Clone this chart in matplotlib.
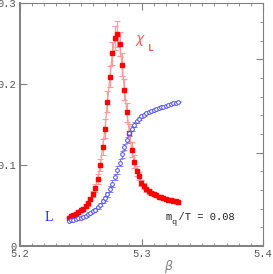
import numpy as np
import matplotlib
matplotlib.use("Agg")
from matplotlib import pyplot as plt
from matplotlib.ticker import MultipleLocator, NullFormatter

# beta values (same grid for both observables)
beta = [5.240, 5.242, 5.244, 5.246, 5.248, 5.250, 5.252, 5.254, 5.256, 5.258,
        5.260, 5.262, 5.264, 5.266, 5.268, 5.270, 5.272, 5.274, 5.276, 5.278,
        5.280, 5.282, 5.284, 5.286, 5.288, 5.290, 5.292, 5.294, 5.296, 5.298,
        5.300, 5.302, 5.304, 5.306, 5.308, 5.310, 5.312, 5.314, 5.316, 5.318,
        5.320, 5.322, 5.324, 5.326, 5.328, 5.330]

# susceptibility chi_L
chi = [0.035, 0.037, 0.038, 0.040, 0.042, 0.044, 0.046, 0.049, 0.053, 0.058,
       0.064, 0.072, 0.083, 0.100, 0.122, 0.145, 0.178, 0.209, 0.238, 0.257,
       0.262, 0.249, 0.224, 0.193, 0.165, 0.140, 0.119, 0.104, 0.093, 0.086,
       0.078, 0.074, 0.070, 0.0675, 0.0655, 0.064, 0.0625, 0.061, 0.060, 0.059,
       0.058, 0.057, 0.0563, 0.0556, 0.055, 0.0545]
chi_err = [0.001, 0.001, 0.0015, 0.0015, 0.002, 0.002, 0.002, 0.0025, 0.003, 0.003,
           0.004, 0.005, 0.006, 0.008, 0.010, 0.012, 0.013, 0.013, 0.014, 0.015,
           0.016, 0.015, 0.014, 0.013, 0.012, 0.011, 0.009, 0.008, 0.006, 0.005,
           0.004, 0.004, 0.003, 0.003, 0.0025, 0.002, 0.002, 0.002, 0.0015, 0.0015,
           0.0015, 0.001, 0.001, 0.001, 0.001, 0.001]

# Polyakov loop L
lval = [0.031, 0.0315, 0.032, 0.033, 0.034, 0.035, 0.036, 0.037, 0.039, 0.041,
        0.043, 0.045, 0.048, 0.051, 0.055, 0.059, 0.064, 0.070, 0.077, 0.085,
        0.094, 0.103, 0.113, 0.122, 0.131, 0.139, 0.145, 0.150, 0.154, 0.157,
        0.160, 0.162, 0.164, 0.1655, 0.167, 0.168, 0.169, 0.170, 0.171, 0.172,
        0.173, 0.174, 0.175, 0.176, 0.177, 0.178]
l_err = [0.0005, 0.0005, 0.0005, 0.0005, 0.0007, 0.0007, 0.0008, 0.001, 0.001, 0.0012,
         0.0015, 0.0015, 0.002, 0.002, 0.0025, 0.003, 0.003, 0.0035, 0.004, 0.004,
         0.0045, 0.0045, 0.0045, 0.004, 0.004, 0.0035, 0.003, 0.0025, 0.002, 0.002,
         0.0015, 0.0015, 0.0012, 0.001, 0.001, 0.001, 0.0008, 0.0008, 0.0007, 0.0007,
         0.0006, 0.0006, 0.0005, 0.0005, 0.0005, 0.0005]

mono = "Liberation Mono"
grey = "#808080"

fig = plt.figure(figsize=(2.73, 2.74), dpi=100)
ax = fig.add_axes([20/273, 28/274, 243/273, 243/274])

ax.errorbar(beta, chi, yerr=chi_err, color="#ff9a9a", lw=0.9, elinewidth=0.9,
            capsize=2, capthick=0.8, zorder=2)
ax.plot(beta, chi, ls="none", marker="s", ms=2.7, color="#ff0000", zorder=3)

ax.errorbar(beta, lval, yerr=l_err, ls="none", color="#7070ff", elinewidth=0.7,
            capsize=1.8, capthick=0.6, zorder=2)
ax.plot(beta, lval, ls="none", marker="o", ms=2.7, mfc="white", mec="#4a4aff",
        mew=0.7, zorder=3)

ax.set_xlim(5.2, 5.4)
ax.set_ylim(0, 0.3)
ax.xaxis.set_major_locator(MultipleLocator(0.1))
ax.xaxis.set_minor_locator(MultipleLocator(0.01))
ax.yaxis.set_major_locator(MultipleLocator(0.1))
ax.tick_params(axis="both", which="both", direction="in", color=grey,
               labelcolor="#555555", labelsize=7.5, pad=2.5)
ax.tick_params(axis="x", which="major", length=5, top=True)
ax.tick_params(axis="x", which="minor", length=2.5, top=True)
ax.tick_params(axis="y", which="major", length=5)
ax.xaxis.set_major_formatter(lambda v, p: f"{v:.1f}")
ax.yaxis.set_major_formatter(lambda v, p: "0" if v == 0 else f"{v:.1f}")
for lab in ax.get_xticklabels() + ax.get_yticklabels():
    lab.set_family(mono)

for side in ["left", "bottom"]:
    ax.spines[side].set_color(grey)
    ax.spines[side].set_linewidth(1.4)
for side in ["right", "top"]:
    ax.spines[side].set_color(grey)
    ax.spines[side].set_linewidth(0.8)

# right-hand scale ticks (no labels)
ax2 = ax.twinx()
ax2.set_ylim(0, 0.2604)
ax2.yaxis.set_major_locator(MultipleLocator(0.1))
ax2.yaxis.set_minor_locator(MultipleLocator(0.02))
ax2.yaxis.set_major_formatter(NullFormatter())
ax2.tick_params(axis="y", which="both", direction="in", color=grey)
ax2.tick_params(axis="y", which="major", length=5)
ax2.tick_params(axis="y", which="minor", length=2.5)
for s in ax2.spines.values():
    s.set_visible(False)

ax.text(5.2947, 0.254, r"$\chi$", color="#ff6060", fontsize=10, va="center",
        ha="left")
ax.text(5.3055, 0.245, "L", color="#ff6060", fontsize=7, family=mono,
        fontweight="bold", va="center", ha="left")
ax.text(5.2206, 0.0355, "L", color="#2020ff", fontsize=10, family="Liberation Serif",
        va="center", ha="left")
ax.text(5.3200, 0.0355, "m /T = 0.08", color="#222222", fontsize=7.5, family=mono,
        va="center", ha="left")
ax.text(5.3243, 0.0295, "q", color="#222222", fontsize=6, family=mono,
        va="center", ha="left")
ax.text(0.613, -0.085, r"$\beta$", transform=ax.transAxes, color=grey,
        fontsize=9, ha="center", va="center")

fig.savefig("out.png", dpi=100)
